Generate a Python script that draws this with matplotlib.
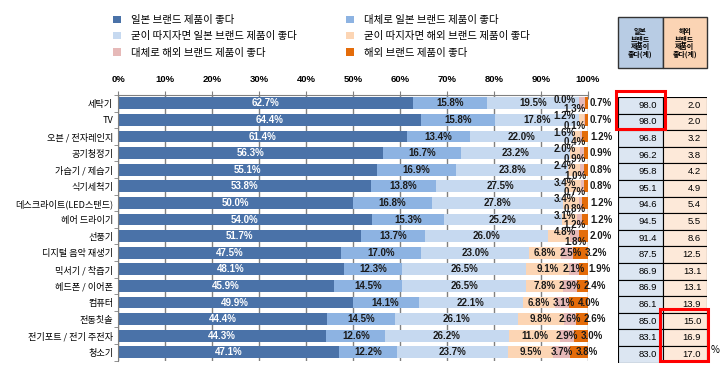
import matplotlib
matplotlib.use('Agg')
import matplotlib.pyplot as plt
from matplotlib.patches import Rectangle
import numpy as np

plt.rcParams['font.family'] = ['Noto Sans CJK KR', 'DejaVu Sans']

# data (percent)
categories = ['세탁기', 'TV', '오븐 / 전자레인지', '공기청정기', '가습기 / 제습기', '식기세척기',
              '데스크라이트(LED스탠드)', '헤어 드라이기', '선풍기', '디지털 음악 재생기',
              '믹서기 / 착즙기', '헤드폰 / 이어폰', '컴퓨터', '전동칫솔',
              '전기포트 / 전기 주전자', '청소기']
jp_strong = [62.7, 64.4, 61.4, 56.3, 55.1, 53.8, 50.0, 54.0, 51.7, 47.5, 48.1, 45.9, 49.9, 44.4, 44.3, 47.1]
jp_mostly = [15.8, 15.8, 13.4, 16.7, 16.9, 13.8, 16.8, 15.3, 13.7, 17.0, 12.3, 14.5, 14.1, 14.5, 12.6, 12.2]
jp_slight = [19.5, 17.8, 22.0, 23.2, 23.8, 27.5, 27.8, 25.2, 26.0, 23.0, 26.5, 26.5, 22.1, 26.1, 26.2, 23.7]
fr_slight = [0.0, 1.2, 1.6, 2.0, 2.4, 3.4, 3.4, 3.1, 4.8, 6.8, 9.1, 7.8, 6.8, 9.8, 11.0, 9.5]
fr_mostly = [1.3, 0.1, 0.4, 0.9, 1.0, 0.7, 0.8, 1.2, 1.8, 2.5, 2.1, 2.9, 3.1, 2.6, 2.9, 3.7]
fr_strong = [0.7, 0.7, 1.2, 0.9, 0.8, 0.8, 1.2, 1.2, 2.0, 3.2, 1.9, 2.4, 4.0, 2.6, 3.0, 3.8]
jp_total = [98.0, 98.0, 96.8, 96.2, 95.8, 95.1, 94.6, 94.5, 91.4, 87.5, 86.9, 86.9, 86.1, 85.0, 83.1, 83.0]
fr_total = [2.0, 2.0, 3.2, 3.8, 4.2, 4.9, 5.4, 5.5, 8.6, 12.5, 13.1, 13.1, 13.9, 15.0, 16.9, 17.0]

series_names = ['일본 브랜드 제품이 좋다', '대체로 일본 브랜드 제품이 좋다',
                '굳이 따지자면 일본 브랜드 제품이 좋다', '굳이 따지자면 해외 브랜드 제품이 좋다',
                '대체로 해외 브랜드 제품이 좋다', '해외 브랜드 제품이 좋다']
series = [jp_strong, jp_mostly, jp_slight, fr_slight, fr_mostly, fr_strong]
colors = ['#4A72A8', '#8DB3E2', '#C6D9F0', '#FCD5B4', '#E6B9B8', '#E46C0A']

fig = plt.figure(figsize=(7.2, 3.68), dpi=100)
ax_rect = [118/720, 7.4/368, 470/720, 265.6/368]
ax = fig.add_axes(ax_rect)

y = np.arange(len(categories))
left = np.zeros(len(categories))
handles = []
cums = []
for vals, name, c in zip(series, series_names, colors):
    vals = np.array(vals)
    b = ax.barh(y, vals, left=left, height=0.7, color=c, label=name, zorder=2)
    handles.append(b)
    cums.append((left.copy(), vals))
    left = left + vals

pct = dict(family=['Liberation Sans', 'DejaVu Sans'], fontweight='bold', fontsize=7)
px_per_pct = 470 / 100


def label_w(txt):
    # rough label width in percent units
    return 5.6 * len(txt) / px_per_pct


for i in range(len(categories)):
    crowded = cums[3][0][i] > 90
    prev_c, prev_w = None, None
    for k, (lft, vals) in enumerate(cums):
        v = vals[i]
        txt = f'{v:.1f}%'
        col = 'white' if k == 0 else '#1a1a1a'
        c = lft[i] + v / 2
        if k < 3:
            ax.text(c, i, txt, ha='center', va='center', color=col, zorder=4, **pct)
            continue
        if not crowded:
            w = label_w(txt)
            if prev_c is not None:
                c = max(c, prev_c + (prev_w + w) / 2 + 0.6)
            prev_c, prev_w = c, w
            ax.text(c, i, txt, ha='center', va='center', color=col, zorder=4, clip_on=False, **pct)
        elif k == 3:
            ax.text(97.4, i - 0.22, txt, ha='right', va='center', color=col, zorder=4, **pct)
        elif k == 4:
            ax.text(99.6, i + 0.36, txt, ha='right', va='center', color=col, zorder=4,
                    clip_on=False, **pct)
        else:
            ax.text(100.4, i, txt, ha='left', va='center', color=col, zorder=4, clip_on=False, **pct)

ax.set_xlim(0, 100)
ax.set_ylim(len(categories) - 0.5, -0.5)
ax.xaxis.tick_top()
ax.set_xticks(np.arange(0, 101, 10))
ax.set_xticklabels([f'{v}%' for v in range(0, 101, 10)], family=['Liberation Sans', 'DejaVu Sans'],
                   fontweight='bold', fontsize=6.8)
ax.tick_params(axis='x', direction='inout', length=6, color='#808080', pad=5)
ax.set_yticks(y)
ax.set_yticklabels(categories, fontsize=6.6)
ax.set_yticks(np.arange(-0.5, len(categories), 1), minor=True)
ax.tick_params(axis='y', which='major', length=0, pad=3.5)
ax.tick_params(axis='y', which='minor', length=3, color='#808080')
ax.grid(axis='x', color='#808080', lw=1, zorder=0)
ax.set_axisbelow(True)
for s in ['bottom', 'right']:
    ax.spines[s].set_visible(False)
for s in ['top', 'left']:
    ax.spines[s].set_color('#808080')

# legend in two columns, row-major order as in the source
leg_kw = dict(loc='upper left', frameon=False, fontsize=7.5, handlelength=0.7,
              handleheight=0.7, handletextpad=1.0, labelspacing=0.6, borderpad=0)
fig.legend([handles[j] for j in (0, 2, 4)], [series_names[j] for j in (0, 2, 4)],
           bbox_to_anchor=(108/720, 1 - 10/368), **leg_kw)
fig.legend([handles[j] for j in (1, 3, 5)], [series_names[j] for j in (1, 3, 5)],
           bbox_to_anchor=(341/720, 1 - 10/368), **leg_kw)

# summary table on the right
tab = fig.add_axes([618/720, ax_rect[1] - 2/368, 89/720, ax_rect[3]])
tab.set_xlim(0, 2)
tab.set_ylim(len(categories) - 0.5, -0.5)
tab.axis('off')
num = dict(family=['Liberation Sans Narrow', 'Liberation Sans'], fontsize=6.8, va='center', ha='right')
for i in range(len(categories)):
    tab.add_patch(Rectangle((0, i - 0.5), 1, 1, fc='#DCE6F2', ec='black', lw=0.8))
    tab.add_patch(Rectangle((1, i - 0.5), 1, 1, fc='#FDE9D9', ec='black', lw=0.8))
    tab.text(0.87, i, f'{jp_total[i]:.1f}', **num)
    tab.text(1.87, i, f'{fr_total[i]:.1f}', **num)

tab.add_patch(Rectangle((0, -5.3), 1, 3.08, fc='#B8CCE4', ec='#333333', lw=1, clip_on=False))
tab.add_patch(Rectangle((1, -5.3), 1, 3.08, fc='#FBD4B4', ec='#333333', lw=1, clip_on=False))
tab.text(0.5, -3.76, '일본\n브랜드\n제품이\n좋다(계)', ha='center', va='center', fontsize=5,
         fontweight='bold', linespacing=1.05, clip_on=False)
tab.text(1.5, -3.76, '해외\n브랜드\n제품이\n좋다(계)', ha='center', va='center', fontsize=5,
         fontweight='bold', linespacing=1.05, clip_on=False)

tab.add_patch(Rectangle((-0.04, -0.85), 1.1, 2.3, fc='none', ec='#FF0000', lw=2.2, clip_on=False))
tab.add_patch(Rectangle((0.95, 12.3), 1.08, 3.1, fc='none', ec='#FF0000', lw=2.2, clip_on=False))
fig.text(711/720, 1 - 350/368, '%', fontsize=7, va='center', ha='left')

fig.savefig('out.png', dpi=100)
